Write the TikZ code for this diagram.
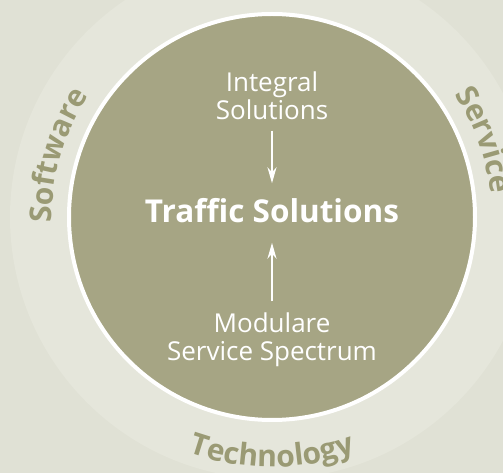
\documentclass[tikz,border=0pt]{standalone}
\usepackage{fontspec}
\setmainfont{Open Sans}
\usetikzlibrary{positioning,arrows.meta,decorations.text}
\definecolor{paper}{HTML}{E0E1D5}
\definecolor{paperlight}{HTML}{E5E6DB}
\definecolor{discfill}{HTML}{A6A584}
\definecolor{ringcol}{HTML}{9A9A74}
\newcommand{\ringfont}{\bfseries\fontsize{30}{34}\selectfont\color{ringcol}}

\begin{document}
\begin{tikzpicture}[x=1pt,y=1pt,
  disctext/.style={text=white,align=center,font=\fontsize{26}{28}\selectfont},
  flow/.style={draw=white,line width=2pt,shorten >=12pt,-{Stealth[length=16pt,width=9pt]}},
  ringtext/.style={decorate,decoration={text along path,text align=center,text={|\ringfont|#1}}}]
  \useasboundingbox (-272,-256) rectangle (231,217);
  \clip (-272,-256) rectangle (231,217);
  \fill[paper] (-272,-256) rectangle (231,217);
  \fill[paperlight] (0,0) circle (262);
  \node[circle,fill=discfill,draw=white,line width=4pt,minimum size=406pt,inner sep=0pt] (disc) at (0,0) {};
  \node[disctext] (integral) at (0,121) {Integral\\Solutions};
  \node[disctext,font=\bfseries\fontsize{31.5}{34}\selectfont] (traffic) at (0,6) {Traffic Solutions};
  \node[disctext] (modulare) at (0,-123) {Modulare\\Service Spectrum};
  \draw[flow,shorten <=7pt] (integral) -- (traffic);
  \draw[flow,shorten <=8pt,shorten >=16pt] (modulare) -- (traffic);
  % words round the disc
  \path[ringtext=Software] (204:220) arc[start angle=204,end angle=124,radius=220];
  \path[ringtext=Service] (60:220) arc[start angle=60,end angle=-20,radius=220];
  \path[ringtext=Technology] (225:250) arc[start angle=225,end angle=315,radius=250];
\end{tikzpicture}
\end{document}
